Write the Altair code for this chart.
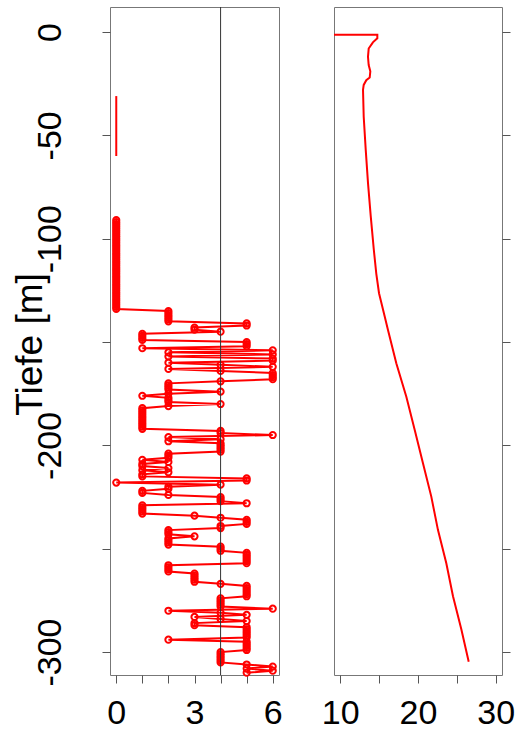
import altair as alt
import pandas as pd

# ---------------- data ----------------
# left panel: class value (0..6) per metre, starting at -91 m going down
klasse = [
    0, 0, 0, 0, 0, 0, 0, 0, 0, 0,
    0, 0, 0, 0, 0, 0, 0, 0, 0, 0,
    0, 0, 0, 0, 0, 0, 0, 0, 0, 0,
    0, 0, 0, 0, 0, 0, 0, 0, 0, 0,
    0, 0, 0, 0,
    2, 2, 2, 2, 2, 2, 5, 5, 3, 3, 4, 1, 1, 1, 1, 5, 5, 5, 1, 6,
    2, 6, 2, 6, 6, 2, 4, 6, 2, 4, 6, 6, 6, 6, 4, 2, 2, 2, 2, 4,
    2, 1, 2, 2, 2, 4, 2, 1, 1, 1, 1, 1, 1, 1, 1, 1, 1, 1, 4, 4,
    6, 2, 4, 2, 4, 4, 4, 4, 4, 2, 2, 2, 1, 2, 1, 1, 2, 1, 2, 1,
    1, 5, 5, 0, 4, 2, 2, 1, 1, 2, 4, 4, 4, 5, 1, 1, 1, 1, 1, 3,
    4, 5, 5, 5, 4, 4, 2, 2, 2, 3, 2, 2, 2, 2, 4, 4, 4, 5, 5, 5,
    5, 5, 5, 2, 2, 2, 2, 3, 3, 3, 3, 3, 4, 5, 5, 5, 5, 5, 5, 4,
    4, 4, 4, 4, 6, 2, 4, 5, 3, 4, 5, 3, 3, 5, 5, 5, 5, 5, 5, 2,
    5, 5, 5, 5, 5, 4, 4, 4, 4, 4, 4, 5, 6, 5, 6, 5,
]
klasse_start = -91
klasse_depth = list(range(klasse_start, klasse_start - len(klasse), -1))

# short line-only segment near the top of the left panel
top_depth = [-31, -60]
top_value = [0, 0]

# reference line
rule_x = [4]

# right panel: temperature profile
temp_depth = [-1.3, -1.3, -3, -5, -8, -12, -16, -19, -22, -23.3, -25.6, -28,
              -41, -57, -73, -89, -105, -117, -126.4, -137.7, -144.2, -160.3,
              -176.5, -192.6, -208.7, -224.8, -241, -257, -273, -289, -304.7]
temp_value = [9.2, 14.77, 14.77, 14.2, 13.66, 13.57, 13.66, 13.87, 13.79, 13.35,
              13.02, 12.93, 13.02, 13.28, 13.57, 13.92, 14.31, 14.64, 14.99,
              15.72, 16.14, 17.21, 18.5, 19.58, 20.64, 21.71, 22.57, 23.64,
              24.5, 25.57, 26.52]

y_ticks = [0, -50, -100, -150, -200, -250, -300]
left_x_ticks = [0, 1, 2, 3, 4, 5, 6]
right_x_ticks = [10, 15, 20, 25, 30]

# ---------------- frames ----------------
df_k = pd.DataFrame({"depth": klasse_depth, "value": klasse,
                     "idx": list(range(len(klasse)))})
df_top = pd.DataFrame({"depth": top_depth, "value": top_value,
                       "idx": list(range(len(top_depth)))})
df_rule = pd.DataFrame({"x": rule_x})
df_t = pd.DataFrame({"depth": temp_depth, "temp": temp_value,
                     "idx": list(range(len(temp_depth)))})

FONT = "Liberation Sans"
RED = "#FF0000"
Y_DOMAIN = [-311.1, 12.1]
W_L, W_R, H = 169, 168, 668

yscale = alt.Scale(domain=Y_DOMAIN, nice=False, zero=False)
xscale_l = alt.Scale(domain=[-0.24, 6.24], nice=False, zero=False)
xscale_r = alt.Scale(domain=[9.2, 30.8], nice=False, zero=False)

y_axis_left = alt.Axis(
    values=y_ticks, title="Tiefe [m]", labelAngle=270, labelAlign="center",
    labelBaseline="middle", labelPadding=52, labelFlush=False, labelOverlap=False,
    labelExpr="datum.value == -150 || datum.value == -250 ? '' : '' + datum.value",
    titleAngle=270, titleAlign="center", titleBaseline="middle",
    titleX=-80, titleY=337, titleFontSize=37, titleFontWeight="normal",
    titleFont=FONT, titleColor="black",
)
x_axis_left = alt.Axis(
    values=left_x_ticks, title=None, labelFlush=False, labelOverlap=False,
    labelExpr="datum.value % 3 == 0 ? '' + datum.value : ''",
    labelPadding=13,
)
y_axis_right = alt.Axis(values=y_ticks, orient="right", labels=False, title=None)
x_axis_right = alt.Axis(
    values=right_x_ticks, title=None, labelFlush=False, labelOverlap=False,
    labelExpr="datum.value % 10 == 0 ? '' + datum.value : ''",
    labelPadding=13,
)

top_line = alt.Chart(df_top).mark_line(color=RED, strokeWidth=2).encode(
    x=alt.X("value:Q", scale=xscale_l, axis=x_axis_left),
    y=alt.Y("depth:Q", scale=yscale, axis=y_axis_left),
    order="idx:Q",
)
k_line = alt.Chart(df_k).mark_line(color=RED, strokeWidth=2).encode(
    x=alt.X("value:Q", scale=xscale_l, axis=x_axis_left),
    y=alt.Y("depth:Q", scale=yscale, axis=y_axis_left),
    order="idx:Q",
)
k_pts = alt.Chart(df_k).mark_point(
    shape="circle", filled=False, color=RED, size=38, strokeWidth=2, opacity=1
).encode(
    x=alt.X("value:Q", scale=xscale_l, axis=x_axis_left),
    y=alt.Y("depth:Q", scale=yscale, axis=y_axis_left),
)
k_rule = alt.Chart(df_rule).mark_rule(color="#333333", strokeWidth=1).encode(
    x=alt.X("x:Q", scale=xscale_l, axis=x_axis_left),
)

left = alt.layer(top_line, k_line, k_pts, k_rule).properties(width=W_L, height=H)

right = alt.Chart(df_t).mark_line(color=RED, strokeWidth=2).encode(
    x=alt.X("temp:Q", scale=xscale_r, axis=x_axis_right),
    y=alt.Y("depth:Q", scale=yscale, axis=y_axis_right),
    order="idx:Q",
).properties(width=W_R, height=H)

chart = alt.hconcat(left, right, spacing=55, bounds="flush").properties(
    padding={"left": 10, "top": 6, "right": 0, "bottom": 0},
    background="white",
).configure_view(
    stroke="#777777", strokeWidth=1,
).configure_axis(
    domain=False, grid=False, tickSize=8, tickColor="#555555", tickWidth=1,
    labelFont=FONT, labelFontSize=34, labelColor="black",
)

chart.save("out.html", embed_options={"renderer": "svg", "actions": False})
